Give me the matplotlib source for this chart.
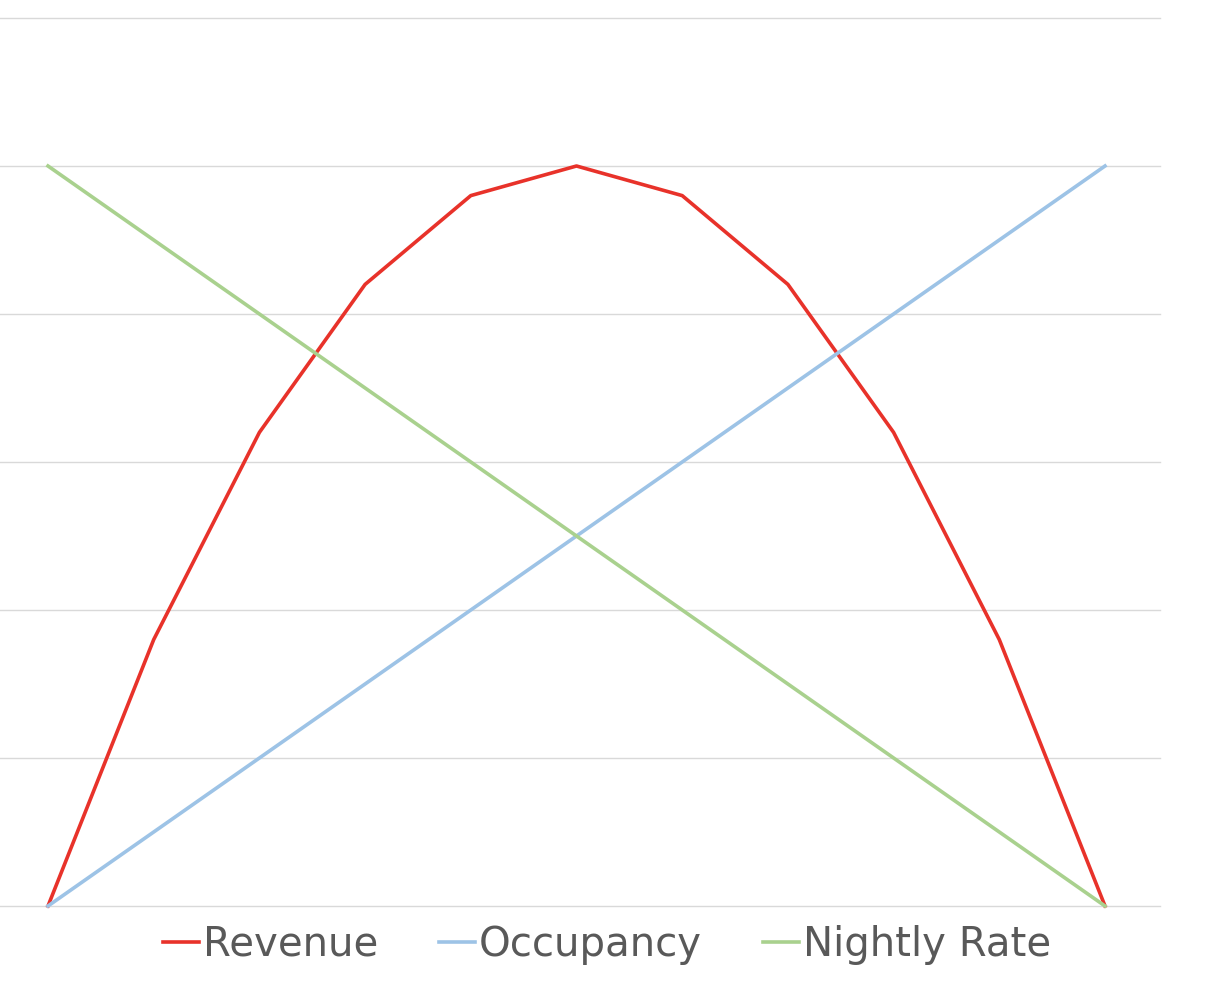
import matplotlib
matplotlib.use("Agg")
import matplotlib.pyplot as plt

x = list(range(11))
revenue = [0, 1.8, 3.2, 4.2, 4.8, 5.0, 4.8, 4.2, 3.2, 1.8, 0]
occupancy = [0, 0.5, 1.0, 1.5, 2.0, 2.5, 3.0, 3.5, 4.0, 4.5, 5.0]
nightly = [5.0, 4.5, 4.0, 3.5, 3.0, 2.5, 2.0, 1.5, 1.0, 0.5, 0]

fig = plt.figure(figsize=(12.12, 9.92), dpi=100)
ax = fig.add_axes([0, (992-906)/992, 1160/1212, (906-18)/992])
ax.set_xlim(-48/105.7, (1160-48)/105.7)
ax.set_ylim(0, 6)
for v in range(7):
    ax.axhline(v, color="#D9D9D9", lw=1, zorder=0, clip_on=False)
ax.plot(x, revenue, color="#E8322A", lw=2.6, label="Revenue", clip_on=False)
ax.plot(x, occupancy, color="#9DC3E6", lw=2.6, label="Occupancy", clip_on=False)
ax.plot(x, nightly, color="#A9D18E", lw=2.6, label="Nightly Rate", clip_on=False)
for s in ax.spines.values():
    s.set_visible(False)
ax.set_xticks([]); ax.set_yticks([])
leg = fig.legend(loc="center", bbox_to_anchor=(607/1212, 1 - 945/992), ncol=3, frameon=False,
                 fontsize=29, handlelength=0.9, handletextpad=0.1, columnspacing=1.5)
for t in leg.get_texts():
    t.set_color("#595959")
fig.savefig("out.png", dpi=100)
